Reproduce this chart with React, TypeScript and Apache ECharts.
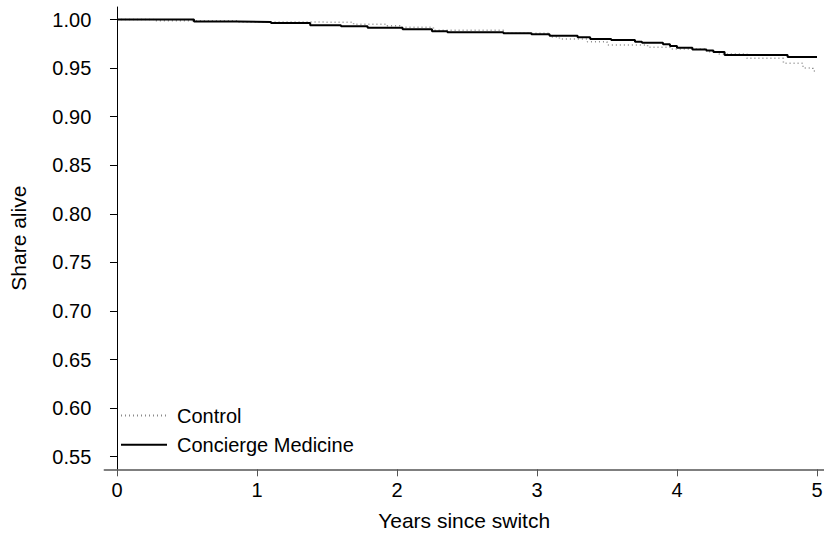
import React, { useEffect, useRef } from "react";
import * as echarts from "echarts";

// Kaplan-Meier style step curves
const conciergeTimes = [0, 0.55, 0.86, 1.1, 1.38, 1.6, 1.79, 2.04, 2.25, 2.36, 2.76, 2.96, 3.09, 3.29, 3.38, 3.53, 3.7, 3.75, 3.9, 3.95, 4.0, 4.11, 4.21, 4.26, 4.34, 4.79, 5.0];
const conciergeValues = [1.0, 0.998, 0.9975, 0.9964, 0.994, 0.993, 0.9916, 0.99, 0.988, 0.9868, 0.9858, 0.9848, 0.9833, 0.9817, 0.98, 0.979, 0.977, 0.976, 0.9745, 0.9727, 0.971, 0.969, 0.968, 0.9666, 0.9635, 0.9614, 0.9614];

const controlTimes = [0, 0.26, 0.86, 1.1, 1.69, 1.93, 2.02, 2.26, 2.76, 3.09, 3.16, 3.36, 3.5, 3.79, 3.95, 4.21, 4.3, 4.5, 4.76, 4.9, 4.97, 5.0];
const controlValues = [1.0, 0.9988, 0.9975, 0.9972, 0.995, 0.9936, 0.992, 0.989, 0.9858, 0.982, 0.98, 0.977, 0.9738, 0.9714, 0.9696, 0.9669, 0.9645, 0.96, 0.955, 0.95, 0.947, 0.947];

const xTicks = [0, 1, 2, 3, 4, 5];
const yTicks = [0.55, 0.6, 0.65, 0.7, 0.75, 0.8, 0.85, 0.9, 0.95, 1.0];

const seriesNames = ["Control", "Concierge Medicine"];

const FONT = "'Liberation Sans', Arial, Helvetica, sans-serif";

export default function App() {
  const ref = useRef<HTMLDivElement>(null);
  useEffect(() => {
    if (!ref.current) return;
    const chart = echarts.init(ref.current, undefined, { renderer: "svg" });
    const zip = (ts: number[], vs: number[]) => ts.map((t, i) => [t, vs[i]]);
    chart.setOption({
      animation: false,
      backgroundColor: "#fff",
      textStyle: { fontFamily: FONT },
      grid: {
        left: 104.3,
        right: 0,
        top: 7,
        bottom: 63.7,
        containLabel: false,
        outerBoundsMode: "none",
      },
      legend: {
        data: seriesNames,
        orient: "vertical",
        left: 120,
        top: 405.6,
        padding: 0,
        itemWidth: 46,
        itemHeight: 14,
        itemGap: 9.2,
        itemStyle: { opacity: 0 },
        textStyle: { fontSize: 20, color: "#000", fontFamily: FONT, padding: [0, 0, 0, 5] },
      },
      xAxis: {
        type: "value",
        min: -0.0907,
        max: 5.05,
        name: "Years since switch",
        nameLocation: "middle",
        nameGap: 41,
        nameTextStyle: { fontSize: 21, color: "#000", fontFamily: FONT },
        axisLine: { show: true, lineStyle: { color: "#555", width: 1.5 } },
        axisTick: { show: true, length: 7, customValues: xTicks, lineStyle: { color: "#555", width: 1 } },
        axisLabel: {
          customValues: xTicks,
          fontSize: 20,
          color: "#000",
          margin: 11,
          fontFamily: FONT,
          formatter: (v: number) => String(Math.round(v)),
        },
        splitLine: { show: false },
      },
      yAxis: {
        type: "value",
        min: 0.53705,
        max: 1.01287,
        name: "Share alive",
        nameLocation: "middle",
        nameGap: 75,
        nameTextStyle: { fontSize: 21, color: "#000", fontFamily: FONT },
        axisLine: { show: true, lineStyle: { color: "#000", width: 1 } },
        axisTick: { show: true, length: 7, customValues: yTicks, lineStyle: { color: "#000", width: 1 } },
        axisLabel: {
          customValues: yTicks,
          fontSize: 20,
          color: "#000",
          margin: 13,
          fontFamily: FONT,
          formatter: (v: number) => v.toFixed(2),
        },
        splitLine: { show: false },
      },
      series: [
        {
          name: seriesNames[0],
          type: "line",
          step: "end",
          symbol: "none",
          data: zip(controlTimes, controlValues),
          lineStyle: { color: "#8a8a8a", width: 1.5, type: [1, 3] },
          itemStyle: { color: "#8a8a8a" },
          z: 2,
        },
        {
          name: seriesNames[1],
          type: "line",
          step: "end",
          symbol: "none",
          data: zip(conciergeTimes, conciergeValues),
          lineStyle: { color: "#000", width: 2 },
          itemStyle: { color: "#000" },
          z: 3,
        },
      ],
    });
    return () => chart.dispose();
  }, []);
  return (
    <div
      ref={ref}
      style={{ position: "fixed", left: 0, top: 0, width: 824, height: 533, background: "#fff" }}
    />
  );
}
